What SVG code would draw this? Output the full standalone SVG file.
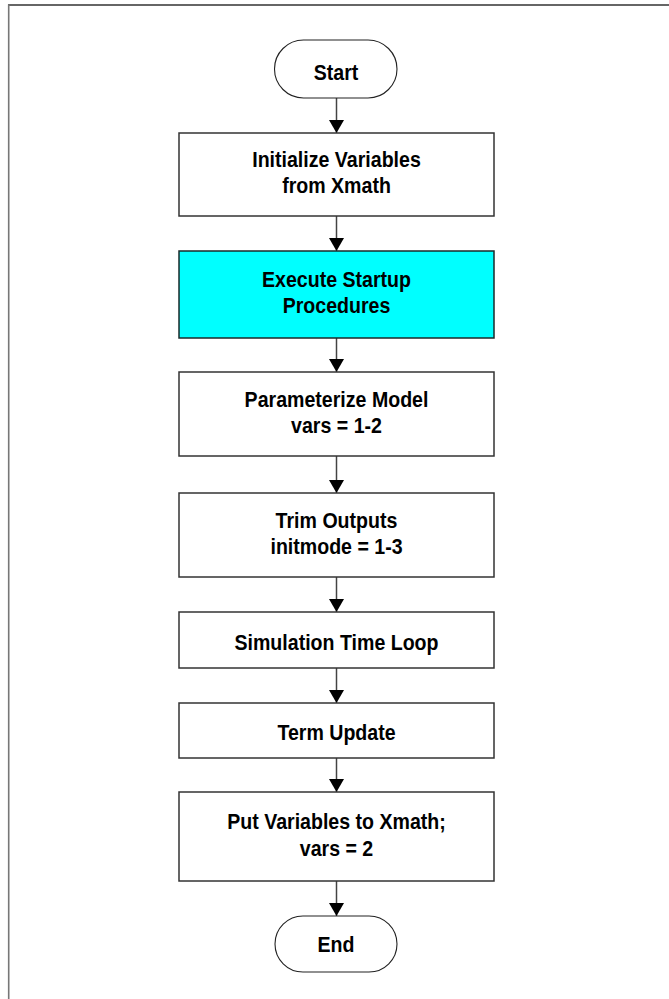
<svg xmlns="http://www.w3.org/2000/svg" width="669" height="999" viewBox="0 0 669 999">
<style>
.box{fill:#fff;stroke:#333;stroke-width:1.5}
.hi{fill:#00ffff;stroke:#1a2a2a;stroke-width:1.5}
.term{fill:#fff;stroke:#222;stroke-width:1.1}
.t{font-family:"Liberation Sans",Arial,Helvetica,sans-serif;font-weight:bold;font-size:22px;text-anchor:middle;fill:#000}
.c{stroke:#444;stroke-width:1.5;fill:none;marker-end:url(#ah)}
</style>
<defs>
<marker id="ah" markerUnits="userSpaceOnUse" markerWidth="14" markerHeight="16" refX="13" refY="7.5" orient="auto" viewBox="0 0 14 15">
<path d="M0,0 L13,7.5 L0,15 Z" fill="#000"/>
</marker>
</defs>
<rect width="669" height="999" fill="#fff"/>
<g id="frame">
<line x1="8" y1="5" x2="669" y2="5" stroke="#333" stroke-width="1.6"/>
<line x1="8.7" y1="4.5" x2="8.7" y2="999" stroke="#777" stroke-width="1.6"/>
</g>
<g id="connectors">
<line class="c" x1="336.5" y1="98" x2="336.5" y2="133"/>
<line class="c" x1="336.5" y1="216" x2="336.5" y2="251"/>
<line class="c" x1="336.5" y1="338" x2="336.5" y2="372"/>
<line class="c" x1="336.5" y1="456" x2="336.5" y2="493"/>
<line class="c" x1="336.5" y1="577" x2="336.5" y2="612"/>
<line class="c" x1="336.5" y1="668" x2="336.5" y2="703"/>
<line class="c" x1="336.5" y1="758" x2="336.5" y2="792"/>
<line class="c" x1="336.5" y1="881" x2="336.5" y2="916"/>
</g>
<g id="start">
<rect class="term" x="274.5" y="40" width="122.5" height="58" rx="29" ry="29"/>
<text class="t" transform="translate(336,80) scale(0.89,1)">Start</text>
</g>
<g id="init">
<rect class="box" x="179" y="133" width="315" height="83"/>
<text class="t" transform="translate(336.5,167) scale(0.89,1)">Initialize Variables</text>
<text class="t" transform="translate(336.5,193) scale(0.89,1)">from Xmath</text>
</g>
<g id="startup">
<rect class="hi" x="179" y="251" width="315" height="87"/>
<text class="t" transform="translate(336.5,287) scale(0.89,1)">Execute Startup</text>
<text class="t" transform="translate(336.5,313) scale(0.89,1)">Procedures</text>
</g>
<g id="param">
<rect class="box" x="179" y="372" width="315" height="84"/>
<text class="t" transform="translate(336.5,406.5) scale(0.89,1)">Parameterize Model</text>
<text class="t" transform="translate(336.5,432.5) scale(0.89,1)">vars = 1-2</text>
</g>
<g id="trim">
<rect class="box" x="179" y="493" width="315" height="84"/>
<text class="t" transform="translate(336.5,527.5) scale(0.89,1)">Trim Outputs</text>
<text class="t" transform="translate(336.5,553.5) scale(0.89,1)">initmode = 1-3</text>
</g>
<g id="simloop">
<rect class="box" x="179" y="612" width="315" height="56"/>
<text class="t" transform="translate(336.5,649.5) scale(0.89,1)">Simulation Time Loop</text>
</g>
<g id="termupdate">
<rect class="box" x="179" y="703" width="315" height="55"/>
<text class="t" transform="translate(336.5,740) scale(0.89,1)">Term Update</text>
</g>
<g id="putvars">
<rect class="box" x="179" y="792" width="315" height="89"/>
<text class="t" transform="translate(336.5,829) scale(0.89,1)">Put Variables to Xmath;</text>
<text class="t" transform="translate(336.5,855.5) scale(0.89,1)">vars = 2</text>
</g>
<g id="end">
<rect class="term" x="275" y="916" width="122" height="56" rx="28" ry="28"/>
<text class="t" transform="translate(336,952) scale(0.89,1)">End</text>
</g>
</svg>
